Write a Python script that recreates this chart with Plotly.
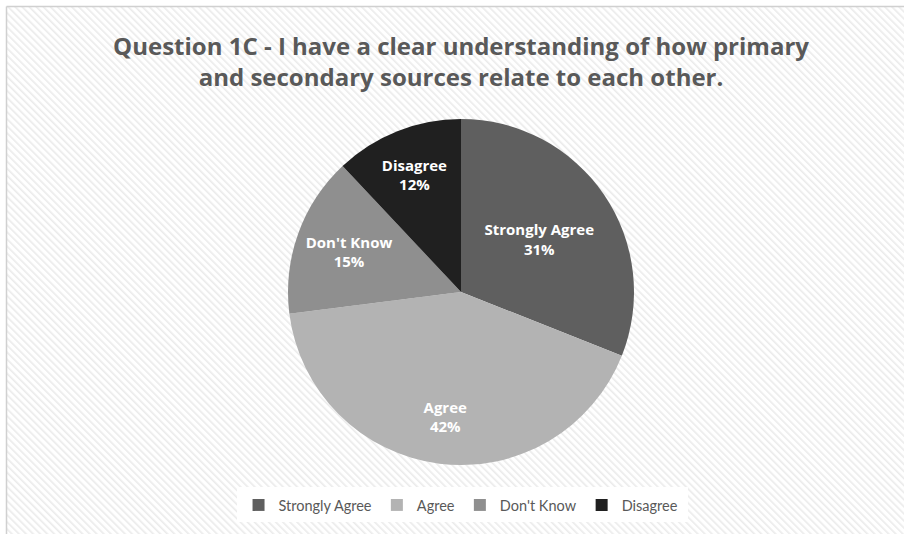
import base64
import plotly.graph_objects as go

categories = ["Strongly Agree", "Agree", "Don't Know", "Disagree"]
values = [31, 42, 15, 12]
colors = ["#5f5f5f", "#b3b3b3", "#8f8f8f", "#202020"]
title_text = "Question 1C - I have a clear understanding of how primary<br>and secondary sources relate to each other."

W, H = 904, 534
label_tpl = "<b>%{label}<br>%{percent:.0%}</b>"

svg = f'''<svg xmlns="http://www.w3.org/2000/svg" width="{W}" height="{H}">
<defs><pattern id="p" width="5" height="5" patternUnits="userSpaceOnUse" patternTransform="rotate(-45)">
<rect width="5" height="5" fill="#ffffff"/><rect width="1.6" height="5" fill="#ebebeb"/></pattern></defs>
<rect x="7" y="7" width="{W}" height="{H}" fill="url(#p)"/>
<rect x="237" y="487" width="451" height="35" fill="#ffffff"/>
</svg>'''
src = "data:image/svg+xml;base64," + base64.b64encode(svg.encode()).decode()

domain = dict(x=[(461 - 173) / W, (461 + 173) / W], y=[1 - 465 / H, 1 - 119 / H])

fig = go.Figure()
fig.add_trace(go.Pie(
    labels=categories,
    values=values,
    marker=dict(colors=colors, line=dict(width=0)),
    sort=False,
    direction="clockwise",
    rotation=0,
    texttemplate=[label_tpl if c != "Agree" else "" for c in categories],
    textposition="inside",
    insidetextorientation="horizontal",
    textfont=dict(color="white", size=15, family="Open Sans"),
    hoverinfo="label+percent",
    domain=domain,
))
# transparent ring carrying the big slice's label further out, like Excel's placement
fig.add_trace(go.Pie(
    labels=categories,
    values=values,
    marker=dict(colors=["rgba(0,0,0,0)"] * len(values), line=dict(width=0)),
    hole=0.45,
    sort=False,
    direction="clockwise",
    rotation=0,
    texttemplate=[label_tpl if c == "Agree" else "" for c in categories],
    textposition="inside",
    insidetextorientation="horizontal",
    textfont=dict(color="white", size=15, family="Open Sans"),
    hoverinfo="skip",
    showlegend=False,
    domain=domain,
))

fig.update_layout(
    width=W, height=H,
    margin=dict(l=0, r=0, t=0, b=0),
    paper_bgcolor="white",
    font=dict(family="Lato", color="#595959"),
    title=dict(text="<b>" + title_text + "</b>", x=0.51, xanchor="center", y=1 - 55 / H,
               yanchor="middle", font=dict(size=24, color="#595959", family="Open Sans")),
    showlegend=True,
    legend=dict(orientation="h", x=0.51, xanchor="center", y=1 - 505 / H, yanchor="middle",
                font=dict(size=14.5, color="#595959", family="Lato"), bgcolor="rgba(0,0,0,0)",
                itemwidth=30, traceorder="normal"),
    images=[dict(source=src, xref="paper", yref="paper", x=0, y=1, sizex=1, sizey=1,
                 xanchor="left", yanchor="top", sizing="stretch", layer="below")],
    shapes=[dict(type="line", xref="paper", yref="paper", x0=6.5 / W, x1=1.01, y0=1 - 6.5 / H, y1=1 - 6.5 / H,
                 line=dict(color="#d0d0d0", width=1.5)),
            dict(type="line", xref="paper", yref="paper", x0=6.5 / W, x1=6.5 / W, y0=-0.01, y1=1 - 6.5 / H,
                 line=dict(color="#d0d0d0", width=1.5))],
)

fig.write_html("out.html", config={"displayModeBar": False},
               post_script="document.body.style.margin='0';document.body.style.overflow='hidden';")
